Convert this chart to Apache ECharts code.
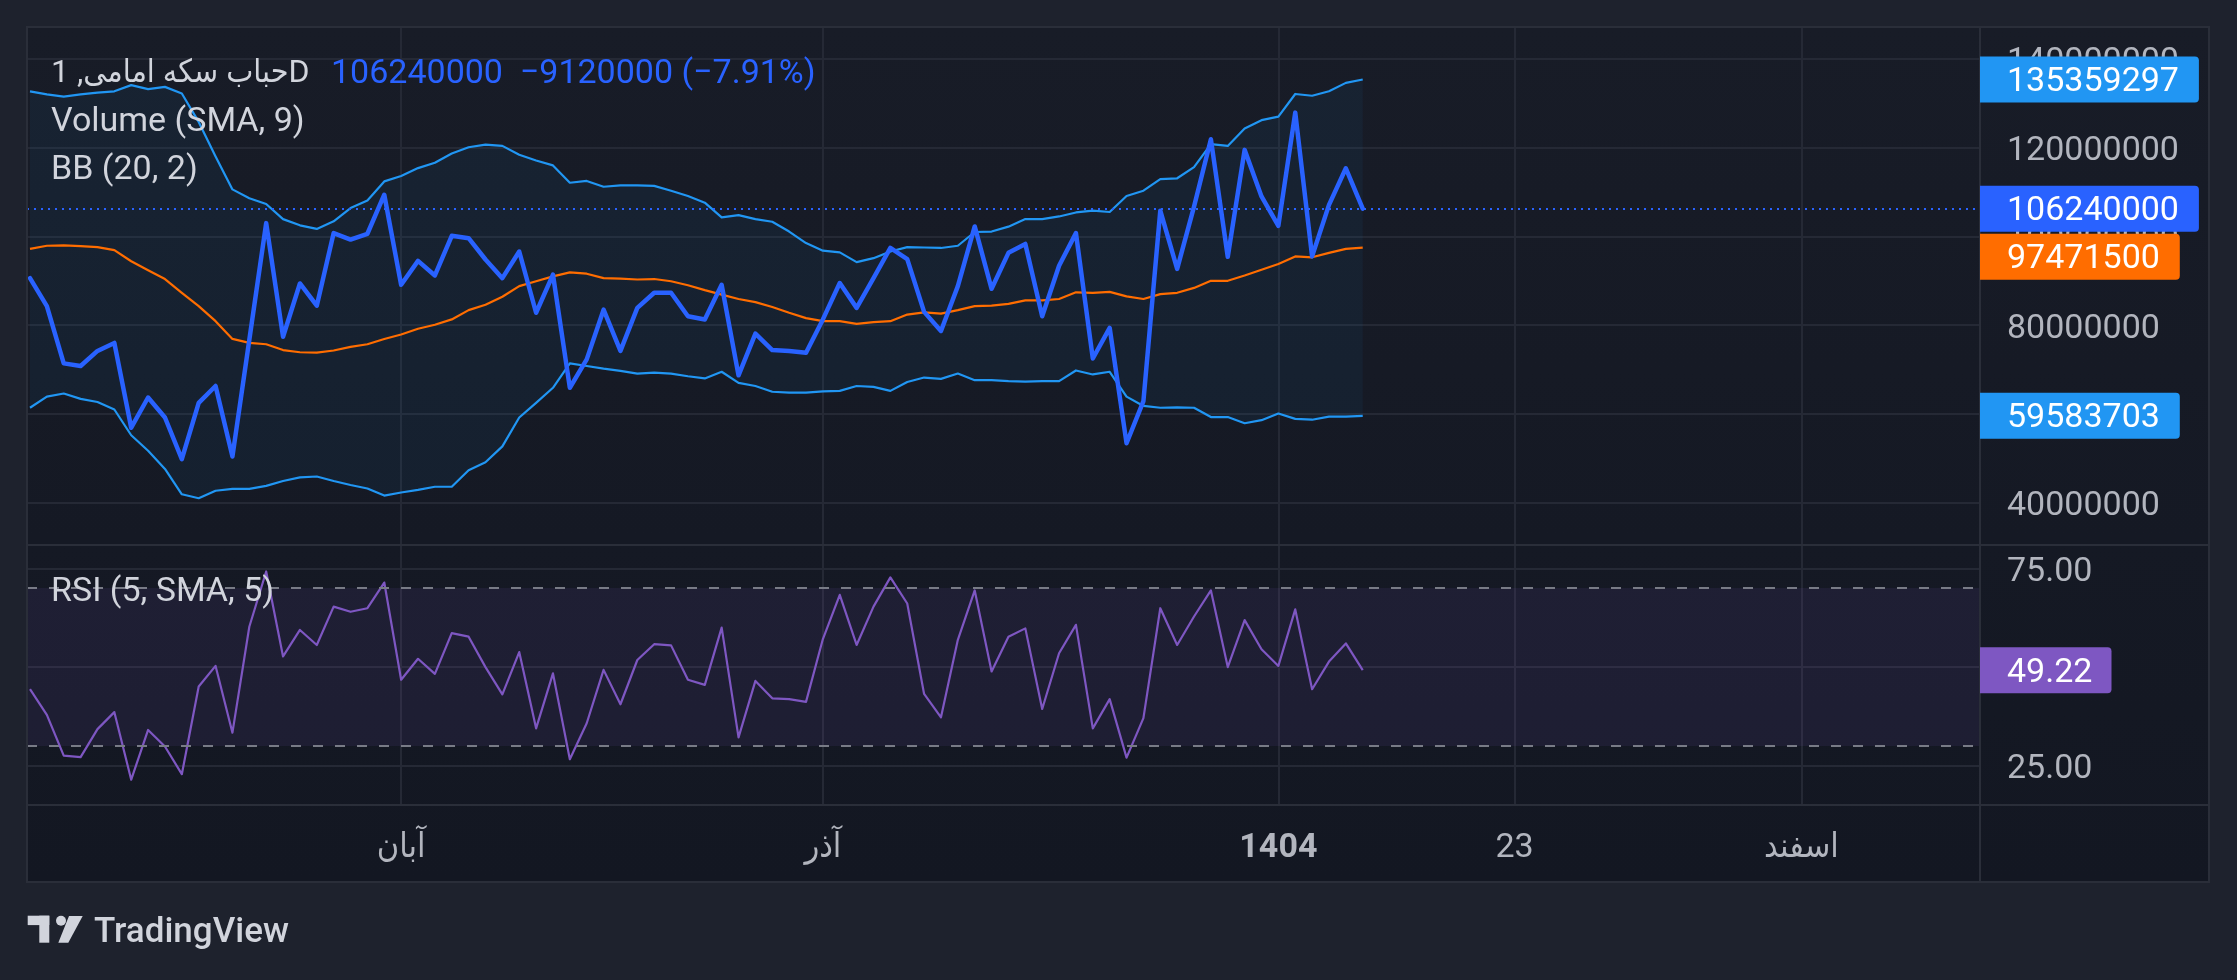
<!DOCTYPE html>
<html>
<head>
<meta charset="utf-8">
<script src="https://cdn.jsdelivr.net/npm/echarts@6/dist/echarts.min.js"></script>
<style>
html,body{margin:0;padding:0;background:#1e222d;width:2237px;height:980px;overflow:hidden}
#frame{position:absolute;left:27px;top:27px;width:2182px;height:855px;background:linear-gradient(#181c27,#131722);}
#c{position:absolute;left:0;top:0;width:2237px;height:980px}
</style>
</head>
<body>
<div id="frame"></div>
<div id="c"></div>
<script>
// ---- data (prices in millions) ----
const closePrice = [90.6,84.3,71.4,70.8,74.2,76.0,56.9,63.7,59.2,49.8,
  62.5,66.3,50.4,76.7,103.0,77.4,89.4,84.4,100.75,99.3,
  100.6,109.4,89.1,94.5,91.2,100.15,99.6,94.8,90.6,96.6,
  82.8,91.4,65.9,72.3,83.5,74.2,83.9,87.3,87.3,82.0,
  81.3,89.1,68.7,78.1,74.4,74.2,73.8,81.3,89.5,83.9,
  90.6,97.4,94.9,83.0,78.7,88.8,102.25,88.2,96.3,98.3,
  82.0,93.4,100.75,72.5,79.4,53.4,62.9,105.8,92.7,106.7,
  121.9,95.4,119.5,109.0,102.4,127.9,95.5,107.1,115.36,106.24];
const bbUpper = [132.7,132.0,131.5,132.0,132.4,132.7,134.1,133.2,133.7,132.2,
  125.8,118.0,110.6,108.6,107.3,103.9,102.5,101.7,103.4,106.4,
  108.1,112.4,113.6,115.4,116.6,118.7,120.1,120.7,120.4,118.4,
  117.1,116.0,112.1,112.5,111.2,111.5,111.5,111.4,110.3,109.1,
  107.6,104.3,104.8,103.9,103.3,101.1,98.5,96.8,96.4,94.2,
  95.1,96.6,97.6,97.5,97.4,97.9,101.0,101.1,102.2,103.9,
  103.9,104.5,105.4,105.8,105.5,109.1,110.3,112.9,113.1,115.6,
  120.8,120.4,124.3,126.2,127.0,132.1,131.7,132.7,134.6,135.359297];
const bbBasis = [97.2,97.9,98.0,97.8,97.6,96.9,94.4,92.4,90.4,87.3,
  84.3,80.9,76.9,76.0,75.7,74.4,73.9,73.8,74.3,75.1,
  75.7,76.9,77.9,79.2,80.1,81.3,83.4,84.6,86.4,88.8,
  89.9,91.0,91.9,91.6,90.6,90.5,90.3,90.4,89.9,89.0,
  87.9,86.9,85.9,85.2,84.1,82.8,81.6,80.9,80.9,80.3,
  80.7,80.9,82.4,82.9,82.6,83.4,84.3,84.4,84.8,85.6,
  85.6,85.9,87.4,87.3,87.5,86.5,85.9,87.0,87.3,88.4,
  90.0,90.0,91.2,92.5,93.8,95.5,95.3,96.3,97.2,97.4715];
const bbLower = [61.4,63.9,64.6,63.4,62.7,61.0,55.2,51.7,47.6,41.9,
  41.0,42.7,43.1,43.1,43.8,44.9,45.7,45.9,44.9,44.0,
  43.2,41.6,42.3,42.9,43.6,43.6,47.3,49.1,52.7,59.2,
  62.5,65.9,71.4,70.8,70.2,69.7,69.1,69.3,69.1,68.5,
  68.0,69.5,67.0,66.3,65.0,64.8,64.8,65.1,65.2,66.3,
  66.1,65.2,67.2,68.2,67.9,69.1,67.6,67.6,67.4,67.3,
  67.4,67.4,69.8,68.9,69.5,63.9,61.8,61.4,61.5,61.4,
  59.3,59.3,57.9,58.6,60.1,58.9,58.7,59.4,59.4,59.583703];
const rsiVals = [44.4,37.9,27.6,27.2,34.3,38.6,21.5,34.1,29.9,22.9,
  45.1,50.3,33.4,60.2,74.2,52.7,59.4,55.6,65.3,64.0,
  64.9,71.4,46.8,52.1,48.3,58.6,57.7,50.0,43.1,53.8,
  34.5,48.4,26.7,35.8,49.3,40.6,51.8,55.8,55.5,46.8,
  45.5,60.0,32.2,46.5,42.1,41.9,41.2,57.1,68.3,55.6,
  65.3,72.7,66.1,43.2,37.3,56.9,69.4,48.9,57.7,59.8,
  39.4,53.5,60.7,34.5,41.9,27.1,37.1,64.9,55.6,62.8,
  69.4,50.0,61.9,54.5,50.3,64.6,44.4,51.4,56.0,49.22];
const timeTickBars = [22, 47, 74, 88, 105];
const timeTickLabels = ['آبان', 'آذر', '1404', '23', 'اسفند'];
const priceTicks = [40, 60, 80, 100, 120, 140];
const rsiTicks = [25, 50, 75];
const rsiLevels = [70, 30];
const lastChange = -9.12;
const lastChangePct = -7.91;
const symbolTitle = 'حباب سکه امامی, 1D';

// ---- chart ----
const FONT = 'Roboto, "DejaVu Sans Condensed", "Noto Sans", sans-serif';
const GRID_C = '#252935';
const AX_C = '#b2b5be';
const X_MIN = -0.178, X_MAX = 115.59;
const toPairs = arr => arr.map((v, i) => [i, v]);
const fmtBig = v => String(Math.round(v * 1e6));
const fmtSigned = v => (v < 0 ? '\u2212' : '+') + Math.abs(v);

const chart = echarts.init(document.getElementById('c'), null, {renderer: 'canvas'});

const xCommon = {
  type: 'value', min: X_MIN, max: X_MAX,
  axisLine: {show: false},
  axisTick: {show: false, customValues: timeTickBars},
  splitLine: {show: true, lineStyle: {color: GRID_C, width: 2}}
};

const lineBase = {type: 'line', symbol: 'none', silent: true, animation: false};
const yLabel = {margin: 27, fontFamily: FONT, fontSize: 34, color: AX_C, verticalAlign: 'top', lineHeight: 8};

const option = {
  backgroundColor: 'transparent',
  animation: false,
  grid: [
    {left: 27, top: 27, width: 1953, height: 518},
    {left: 27, top: 545, width: 1953, height: 260}
  ],
  xAxis: [
    Object.assign({}, xCommon, {gridIndex: 0, axisLabel: {show: false, customValues: timeTickBars}}),
    Object.assign({}, xCommon, {gridIndex: 1, axisLabel: {
      show: true, customValues: timeTickBars, margin: 26,
      fontFamily: FONT, fontSize: 34, color: AX_C,
      formatter: v => {
        const k = timeTickBars.indexOf(Math.round(v));
        if (k < 0) return '';
        const t = timeTickLabels[k];
        return /^\d{4}$/.test(t) ? '{b|' + t + '}' : '{n|' + t + '}';
      },
      rich: {
        b: {fontFamily: FONT, fontSize: 34, fontWeight: 'bold', color: AX_C},
        n: {fontFamily: FONT, fontSize: 34, color: AX_C}
      }
    }})
  ],
  yAxis: [
    {type: 'value', gridIndex: 0, position: 'right', min: 30.47, max: 147.19,
     axisLine: {show: false},
     axisTick: {show: false, customValues: priceTicks},
     axisLabel: Object.assign({customValues: priceTicks, formatter: fmtBig}, yLabel),
     splitLine: {show: true, lineStyle: {color: GRID_C, width: 2}}},
    {type: 'value', gridIndex: 1, position: 'right', min: 15.1, max: 80.9,
     axisLine: {show: false},
     axisTick: {show: false, customValues: rsiTicks},
     axisLabel: Object.assign({customValues: rsiTicks, formatter: v => v.toFixed(2)}, yLabel),
     splitLine: {show: true, lineStyle: {color: GRID_C, width: 2}}}
  ],
  series: [
    {type: 'custom', name: 'bbFill', xAxisIndex: 0, yAxisIndex: 0, silent: true, z: 1,
     data: [[0, bbUpper[0]]], encode: {x: 0, y: 1},
     renderItem: (params, api) => {
       const pts = [];
       for (let i = 0; i < bbUpper.length; i++) pts.push(api.coord([i, bbUpper[i]]));
       for (let i = bbLower.length - 1; i >= 0; i--) pts.push(api.coord([i, bbLower[i]]));
       return {type: 'polygon', shape: {points: pts}, style: {fill: 'rgba(33,150,243,0.06)'}};
     }},
    Object.assign({}, lineBase, {name: 'BB upper', xAxisIndex: 0, yAxisIndex: 0,
      data: toPairs(bbUpper), lineStyle: {color: '#2196f3', width: 2.2, join: 'round'}, z: 3}),
    Object.assign({}, lineBase, {name: 'BB lower', xAxisIndex: 0, yAxisIndex: 0,
      data: toPairs(bbLower), lineStyle: {color: '#2196f3', width: 2.2, join: 'round'}, z: 3}),
    Object.assign({}, lineBase, {name: 'BB basis', xAxisIndex: 0, yAxisIndex: 0,
      data: toPairs(bbBasis), lineStyle: {color: '#ff6d00', width: 2.2, join: 'round'}, z: 3}),
    Object.assign({}, lineBase, {name: 'Close', xAxisIndex: 0, yAxisIndex: 0,
      data: toPairs(closePrice), lineStyle: {color: '#2962ff', width: 4.5, join: 'round', cap: 'round'}, z: 4,
      markLine: {silent: true, symbol: 'none', label: {show: false}, animation: false,
        lineStyle: {color: '#2962ff', width: 2, type: [2, 5]},
        data: [{yAxis: closePrice[closePrice.length - 1]}]}}),
    Object.assign({}, lineBase, {name: 'RSI', xAxisIndex: 1, yAxisIndex: 1,
      data: toPairs(rsiVals), lineStyle: {color: '#7e57c2', width: 2.2, join: 'round'}, z: 4,
      markArea: {silent: true, itemStyle: {color: 'rgba(126,87,194,0.1)'},
        data: [[{yAxis: rsiLevels[1]}, {yAxis: rsiLevels[0]}]]},
      markLine: {silent: true, symbol: 'none', label: {show: false}, animation: false,
        lineStyle: {color: '#787b86', width: 2, type: [10, 12]},
        data: rsiLevels.map(v => ({yAxis: v}))}})
  ]
};
chart.setOption(option);

// ---- price-scale tags, placed through the axes ----
const N = closePrice.length;
const mainTags = [
  {v: bbUpper[N - 1], c: '#2196f3'},
  {v: closePrice[N - 1], c: '#2962ff'},
  {v: bbBasis[N - 1], c: '#ff6d00'},
  {v: bbLower[N - 1], c: '#2196f3'}
].map(t => ({y: chart.convertToPixel({yAxisIndex: 0}, t.v), text: fmtBig(t.v), c: t.c}));
mainTags.sort((a, b) => a.y - b.y);
const TAG_H = 46, TAG_SEP = 48;
for (let k = 1; k < mainTags.length; k++) {
  if (mainTags[k].y < mainTags[k - 1].y + TAG_SEP) mainTags[k].y = mainTags[k - 1].y + TAG_SEP;
}
const rsiTag = {y: chart.convertToPixel({yAxisIndex: 1}, rsiVals[N - 1]), text: rsiVals[N - 1].toFixed(2), c: '#7e57c2'};
const axisX = chart.convertToPixel({xAxisIndex: 0}, X_MAX);

const tagEls = t => {
  const tw = 27 + t.text.length * 19.1 - (t.text.indexOf('.') >= 0 ? 11 : 0) + 20;
  return [
    {type: 'rect', z: 100, silent: true, shape: {x: axisX, y: t.y - TAG_H / 2, width: tw, height: TAG_H, r: [0, 4, 4, 0]}, style: {fill: t.c}},
    {type: 'text', z: 101, silent: true, x: axisX + 27, y: t.y + 3,
      style: {text: t.text, fill: '#ffffff', font: '34px ' + FONT, verticalAlign: 'middle', align: 'left'}}
  ];
};

const gLines = [
  {type: 'line', shape: {x1: 1980, y1: 27, x2: 1980, y2: 882}},
  {type: 'line', shape: {x1: 27, y1: 545, x2: 2209, y2: 545}},
  {type: 'line', shape: {x1: 27, y1: 805, x2: 2209, y2: 805}},
  {type: 'rect', shape: {x: 27, y: 27, width: 2182, height: 855}}
].map(e => Object.assign(e, {z: 5, silent: true, style: {stroke: '#2a2e39', lineWidth: 2, fill: null}}));

const legendStyle = {font: '34px ' + FONT, fill: '#d1d4dc', verticalAlign: 'middle', align: 'left'};
const quoteText = fmtBig(closePrice[N - 1]) + '  ' + fmtSigned(Math.round(lastChange * 1e6)) + ' (' + fmtSigned(lastChangePct) + '%)';
const legends = [
  {type: 'text', x: 51, y: 74, z: 50, style: Object.assign({}, legendStyle, {text: symbolTitle, font: '32px ' + FONT})},
  {type: 'text', x: 331, y: 74, z: 50, style: Object.assign({}, legendStyle, {text: quoteText, fill: '#2962ff'})},
  {type: 'text', x: 51, y: 122, z: 50, style: Object.assign({text: 'Volume (SMA, 9)'}, legendStyle)},
  {type: 'text', x: 51, y: 170, z: 50, style: Object.assign({text: 'BB (20, 2)'}, legendStyle)},
  {type: 'text', x: 51, y: 592, z: 50, style: Object.assign({text: 'RSI (5, SMA, 5)'}, legendStyle)}
];

const logoC = '#d1d4dc';
const logo = [
  {type: 'rect', shape: {x: 27.7, y: 915.7, width: 21.6, height: 9.4}, style: {fill: logoC}},
  {type: 'rect', shape: {x: 39.3, y: 915.7, width: 10, height: 27}, style: {fill: logoC}},
  {type: 'circle', shape: {cx: 61, cy: 920.7, r: 5}, style: {fill: logoC}},
  {type: 'polygon', shape: {points: [[69, 916], [82.7, 916], [68.3, 942.7], [58.3, 942.7]]}, style: {fill: logoC}},
  {type: 'text', x: 94, y: 933, style: {text: 'TradingView', font: '500 35px ' + FONT, fill: logoC, verticalAlign: 'middle', align: 'left'}}
];

let tagList = [];
mainTags.forEach(t => { tagList = tagList.concat(tagEls(t)); });
tagList = tagList.concat(tagEls(rsiTag));
chart.setOption({graphic: {elements: gLines.concat(legends, tagList, logo)}});
</script>
</body>
</html>
